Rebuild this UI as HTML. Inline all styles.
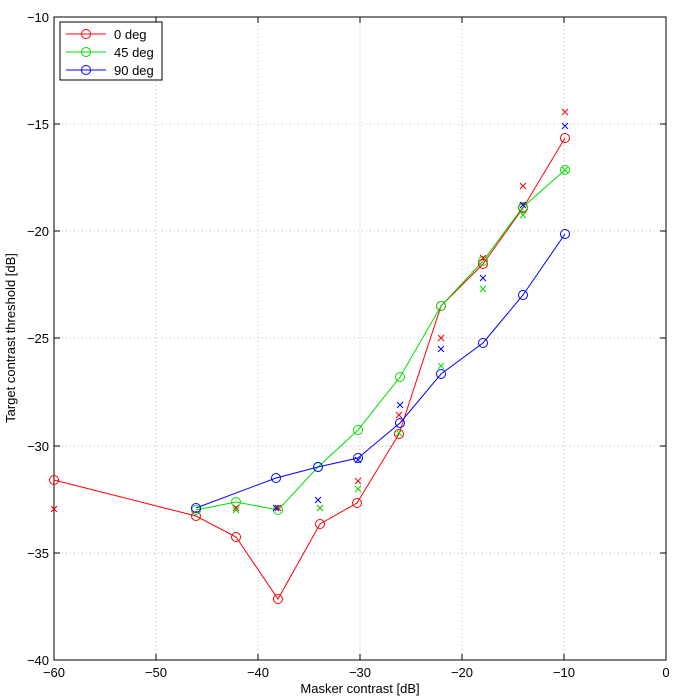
<!DOCTYPE html>
<html><head><style>body{margin:0;background:#fff}svg{display:block}text{font-family:"Liberation Sans",sans-serif;font-size:13px;fill:#000}</style></head><body>
<svg width="675" height="699" xmlns="http://www.w3.org/2000/svg">
<rect width="675" height="699" fill="#fff"/>
<g stroke="#bbb" stroke-dasharray="1,3" stroke-width="1">
<line x1="156" y1="17" x2="156" y2="660"/><line x1="258" y1="17" x2="258" y2="660"/><line x1="360" y1="17" x2="360" y2="660"/><line x1="462" y1="17" x2="462" y2="660"/><line x1="564" y1="17" x2="564" y2="660"/>
<line x1="54" y1="124" x2="666" y2="124"/><line x1="54" y1="231" x2="666" y2="231"/><line x1="54" y1="338" x2="666" y2="338"/><line x1="54" y1="446" x2="666" y2="446"/><line x1="54" y1="553" x2="666" y2="553"/>
</g>
<rect x="54" y="17" width="612" height="643" fill="none" stroke="#000"/>
<g stroke="#000">
<path d="M156,660v-6M258,660v-6M360,660v-6M462,660v-6M564,660v-6M156,17v6M258,17v6M360,17v6M462,17v6M564,17v6"/>
<path d="M54,124h6M54,231h6M54,338h6M54,446h6M54,553h6M666,124h-6M666,231h-6M666,338h-6M666,446h-6M666,553h-6"/>
</g>
<g text-anchor="middle">
<text x="54" y="677">−60</text><text x="156" y="677">−50</text><text x="258" y="677">−40</text><text x="360" y="677">−30</text><text x="462" y="677">−20</text><text x="564" y="677">−10</text><text x="666" y="677">0</text>
<text x="360" y="693">Masker contrast [dB]</text>
</g>
<g text-anchor="end">
<text x="49" y="22">−10</text><text x="49" y="129">−15</text><text x="49" y="236">−20</text><text x="49" y="343">−25</text><text x="49" y="451">−30</text><text x="49" y="558">−35</text><text x="49" y="665">−40</text>
</g>
<text transform="translate(15,338) rotate(-90)" text-anchor="middle">Target contrast threshold [dB]</text>
<g fill="none" stroke-width="1">
<polyline stroke="#f00" points="54,480 196,516 236,537 278,599 320,524 357,503 399,434 441,306 483,264 523,208 565,138"/>
<polyline stroke="#0d0" points="196,510 236,502 278,510 318,467 358,430 400,377 441,306 483,261 523,207 565,170"/>
<polyline stroke="#00f" points="196,508 276,478 318,467 358,458 400,423 441,374 483,343 523,295 565,234"/>
<g stroke="#f00"><circle cx="54" cy="480" r="4.5"/><circle cx="196" cy="516" r="4.5"/><circle cx="236" cy="537" r="4.5"/><circle cx="278" cy="599" r="4.5"/><circle cx="320" cy="524" r="4.5"/><circle cx="357" cy="503" r="4.5"/><circle cx="399" cy="434" r="4.5"/><circle cx="441" cy="306" r="4.5"/><circle cx="483" cy="264" r="4.5"/><circle cx="523" cy="208" r="4.5"/><circle cx="565" cy="138" r="4.5"/></g>
<g stroke="#0d0"><circle cx="196" cy="510" r="4.5"/><circle cx="236" cy="502" r="4.5"/><circle cx="278" cy="510" r="4.5"/><circle cx="318" cy="467" r="4.5"/><circle cx="358" cy="430" r="4.5"/><circle cx="400" cy="377" r="4.5"/><circle cx="441" cy="306" r="4.5"/><circle cx="483" cy="261" r="4.5"/><circle cx="523" cy="207" r="4.5"/><circle cx="565" cy="170" r="4.5"/></g>
<g stroke="#00f"><circle cx="196" cy="508" r="4.5"/><circle cx="276" cy="478" r="4.5"/><circle cx="318" cy="467" r="4.5"/><circle cx="358" cy="458" r="4.5"/><circle cx="400" cy="423" r="4.5"/><circle cx="441" cy="374" r="4.5"/><circle cx="483" cy="343" r="4.5"/><circle cx="523" cy="295" r="4.5"/><circle cx="565" cy="234" r="4.5"/></g>
<g stroke="#f00"><path d="M51,506l6,6m0,-6l-6,6M233,505l6,6m0,-6l-6,6M275,505l6,6m0,-6l-6,6M317,505l6,6m0,-6l-6,6M355,478l6,6m0,-6l-6,6M396,412l6,6m0,-6l-6,6M438,335l6,6m0,-6l-6,6M480,255l6,6m0,-6l-6,6M520,183l6,6m0,-6l-6,6M562,109l6,6m0,-6l-6,6"/></g>
<g stroke="#0d0"><path d="M233,507l6,6m0,-6l-6,6M317,505l6,6m0,-6l-6,6M355,486l6,6m0,-6l-6,6M396,430l6,6m0,-6l-6,6M438,363l6,6m0,-6l-6,6M480,286l6,6m0,-6l-6,6M520,212l6,6m0,-6l-6,6M562,167l6,6m0,-6l-6,6"/></g>
<g stroke="#00f"><path d="M273,505l6,6m0,-6l-6,6M315,497l6,6m0,-6l-6,6M355,457l6,6m0,-6l-6,6M397,402l6,6m0,-6l-6,6M438,346l6,6m0,-6l-6,6M480,275l6,6m0,-6l-6,6M520,202l6,6m0,-6l-6,6M562,123l6,6m0,-6l-6,6"/></g>
</g>
<rect x="60" y="22" width="102" height="58" fill="#fff" stroke="#000"/>
<g fill="none">
<line x1="66" y1="34" x2="106" y2="34" stroke="#f00"/><circle cx="86" cy="34" r="4.5" stroke="#f00"/>
<line x1="66" y1="52" x2="106" y2="52" stroke="#0d0"/><circle cx="86" cy="52" r="4.5" stroke="#0d0"/>
<line x1="66" y1="70" x2="106" y2="70" stroke="#00f"/><circle cx="86" cy="70" r="4.5" stroke="#00f"/>
</g>
<text x="114" y="39">0 deg</text><text x="114" y="57">45 deg</text><text x="114" y="75">90 deg</text>
</svg>
</body></html>
